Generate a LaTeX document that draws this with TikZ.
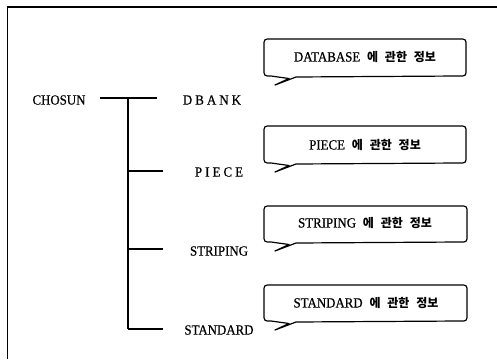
\documentclass[tikz,border=0pt]{standalone}
\usepackage{fontspec}
\newfontfamily\tf[FakeStretch=0.92,FakeBold=0.6]{Liberation Serif}
\newfontfamily\spf[FakeStretch=0.92,FakeBold=0.6,LetterSpace=22]{Liberation Serif}
\newfontfamily\kr[WordSpace=2.5]{Noto Sans CJK KR}
\tikzset{
  lbl/.style={inner sep=0pt, font=\fontsize{14}{16}\selectfont\tf},
  slbl/.style={inner sep=0pt, font=\fontsize{14}{16}\selectfont\spf},
  btxt/.style={inner sep=0pt, font=\fontsize{14}{16}\selectfont\tf},
  tree/.style={line width=1.2pt},
  frame/.style={line width=1.6pt},
  callout/.style={line width=1.2pt, fill=white, line join=round}
}
\newcommand{\kor}[1]{{\fontsize{12}{14}\selectfont\kr\bfseries\ #1}}
\begin{document}
\begin{tikzpicture}[x=1pt,y=-1pt]
\useasboundingbox (0,0) rectangle (497,359);
% frame
\coordinate (fa) at (7.5,7);
\coordinate (fb) at (497,7);
\coordinate (fc) at (7.5,359);
\draw[frame] (fb) -- (fa) -- (fc);
% tree
\node[lbl] (chosun) at (59,100) {CHOSUN};
\node[slbl] (dbank) at (212,100) {DBANK};
\node[slbl] (piece) at (219,172) {PIECE};
\node[lbl] (striping) at (219,251) {STRIPING};
\node[lbl] (standard) at (219,330) {STANDARD};
\coordinate (j0) at (100,98);
\coordinate (jt) at (128,98);
\coordinate (e1) at (157,98);
\coordinate (j2) at (128,171);
\coordinate (e2) at (163,171);
\coordinate (j3) at (128,249);
\coordinate (e3) at (163,249);
\coordinate (j4) at (128,329);
\coordinate (e4) at (163,329);
\draw[tree] (j0) -- (e1);
\draw[tree] (jt) -- (j4);
\draw[tree] (j2) -- (e2);
\draw[tree] (j3) -- (e3);
\draw[tree] (j4) -- (e4);
% callouts
\foreach \T/\B/\R in {39/76/466, 126/163/466, 206/242/467, 285/321/467}{
  \draw[callout] (296,\B+1) -- (\R-7,\B) .. controls (\R,\B) .. (\R,\B-7)
    -- (\R,\T+7) .. controls (\R,\T) .. (\R-7,\T)
    -- (271,\T) .. controls (264,\T) .. (264,\T+7)
    -- (264,\B-7) .. controls (264,\B) .. (271,\B)
    -- (289,\B+2.5) -- (275,\B+9) -- cycle;
}
\node[btxt] (t1) at (365,57) {DATABASE\kor{에 관한 정보}};
\node[btxt] (t2) at (365,145) {PIECE\kor{에 관한 정보}};
\node[btxt] (t3) at (365,223) {STRIPING\kor{에 관한 정보}};
\node[btxt] (t4) at (366,303) {STANDARD\kor{에 관한 정보}};
\end{tikzpicture}
\end{document}
